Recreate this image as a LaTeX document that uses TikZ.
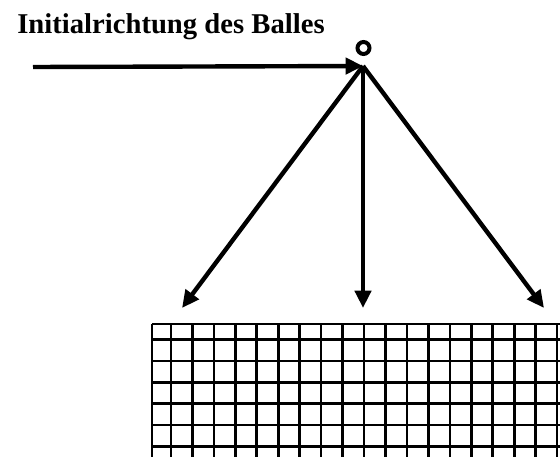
\documentclass[tikz,border=0pt]{standalone}
\usepackage{fontspec}
\setmainfont{Liberation Serif}
\usetikzlibrary{arrows.meta}

\begin{document}
\begin{tikzpicture}[
  x=0.75pt,y=-0.75pt,
  title/.style={font=\bfseries\fontsize{21.5}{25}\selectfont,inner sep=0pt,anchor=base west},
  ball/.style={circle,draw,line width=3pt,inner sep=0pt,minimum size=9pt},
  arr/.style={-{Triangle[length=13pt,width=12pt]},line width=3.3pt},
  net/.style={line width=2pt}
]
\useasboundingbox (0,0) rectangle (560,457);
\node[title] (title) at (17,33) {Initialrichtung des Balles};
\node[ball] (ball) at (363.5,48) {};
\coordinate (start) at (33,67);
\coordinate (hit) at (363,66);
\coordinate (left) at (182,308);
\coordinate (down) at (363,308);
\coordinate (right) at (544,308);
\draw[arr] (start) -- (hit);
\draw[arr] (hit) -- (left);
\draw[arr] (hit) -- (down);
\draw[arr] (hit) -- (right);
% net
\draw[net] (152,324) -- (560,324);
\draw[net] (152,324) -- (152,457);
\foreach \k in {0,...,18}
  \draw[net] ({171+21.45*\k},324) -- ({171+21.45*\k},457);
\foreach \k in {0,...,5}
  \draw[net] (152,{339.5+21.35*\k}) -- (560,{339.5+21.35*\k});
\end{tikzpicture}
\end{document}
